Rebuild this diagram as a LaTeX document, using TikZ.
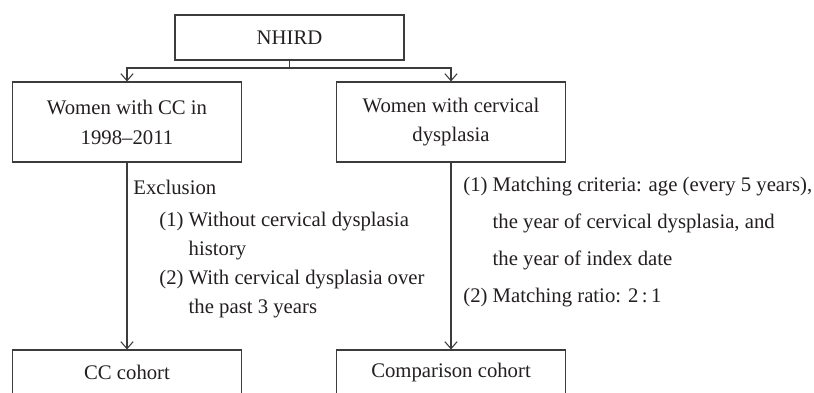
\documentclass[tikz,border=0pt]{standalone}
\usepackage{fontspec}
\setmainfont{Liberation Serif}
\usetikzlibrary{arrows.meta,positioning}
\definecolor{inkgray}{HTML}{231F20}
\definecolor{linegray}{HTML}{3C3C3C}
\tikzset{
  box/.style={draw=linegray, line width=0.6pt, minimum width=4.58cm, minimum height=0.9cm, align=center, inner sep=0pt, text=inkgray},
  tallbox/.style={box, minimum height=1.6cm},
  flow/.style={draw=linegray, line width=0.6pt, -{Straight Barb[length=4pt,width=7pt]}},
  note/.style={inner sep=0pt, text=inkgray, align=left}
}
\begin{document}
\begin{tikzpicture}[x=0.02cm, y=-0.02cm, font=\fontsize{11.8}{17}\selectfont]
    % Frame of the picture
    \clip (0,0) rectangle (814,392);

    % Boxes
    \node[box] (nhird) at (289.5,37.5) {NHIRD};
    \node[tallbox] (ccwomen) at (127,122) {Women with CC in\\1998--2011};
    \node[tallbox] (dyswomen) at (451,122) {Women with cervical\\dysplasia};
    \node[box] (cccohort) at (127,372.5) {CC cohort};
    \node[box] (compcohort) at (451,372.5) {Comparison cohort};

    % Split below NHIRD
    \coordinate (split) at (289.5,68);
    \draw[flow, -] (nhird) -- (split);
    \draw[flow] (split) -| (ccwomen);
    \draw[flow] (split) -| (dyswomen);

    % Down to the cohorts
    \draw[flow] (ccwomen) -- (cccohort);
    \draw[flow] (dyswomen) -- (compcohort);

    % Notes beside the arrows
    \node[note, anchor=west] (exclusion) at (133,187) {Exclusion};
    \node[note, anchor=north west, font=\fontsize{11.8}{16.4}\selectfont] (exclist) at (159,212)
        {(1) Without cervical dysplasia\\\phantom{(1) }history\\(2) With cervical dysplasia over\\\phantom{(2) }the past 3 years};
    \node[note, anchor=north west, font=\fontsize{11.8}{21}\selectfont] (matchlist) at (463,177)
        {(1) Matching criteria: age (every 5 years),\\\phantom{(1) }the year of cervical dysplasia, and\\\phantom{(1) }the year of index date\\(2) Matching ratio: 2\,:\,1};
\end{tikzpicture}
\end{document}
